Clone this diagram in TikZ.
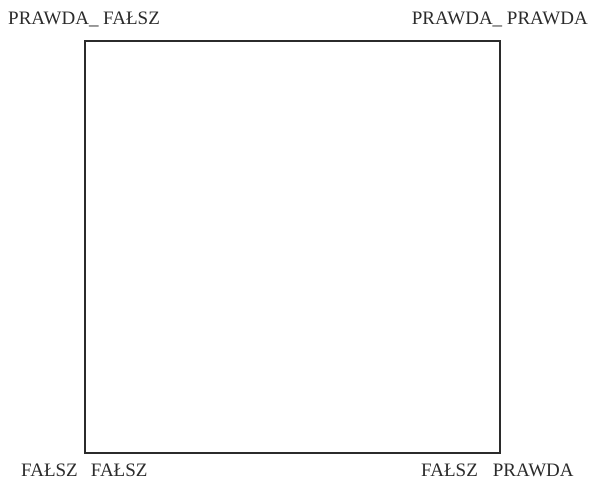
\documentclass[tikz,border=0pt]{standalone}
\usepackage{fontspec}
\setmainfont{Liberation Serif}
\usepackage{tikz}
\usetikzlibrary{positioning}
\definecolor{ink}{HTML}{2B2B2B}
\tikzset{
  etykieta/.style={font=\fontsize{19}{21}\selectfont,color=ink,inner sep=0pt},
  ramka/.style={draw=ink,line width=1.4pt},
}

\begin{document}
\begin{tikzpicture}[x=1pt,y=-1pt]
  \useasboundingbox (0,0) rectangle (591,481);
  \draw[ramka] (85,41) rectangle (500,453);
  \node[etykieta,anchor=base west] (pf) at (8,25) {PRAWDA\_ FAŁSZ};
  \node[etykieta,anchor=base east] (pp) at (588,25) {PRAWDA\_ PRAWDA};
  \node[etykieta,anchor=base west] (ff) at (21,476) {FAŁSZ\hspace{13pt}FAŁSZ};
  \node[etykieta,anchor=base west] (fp) at (421,476) {FAŁSZ\hspace{15pt}PRAWDA};
\end{tikzpicture}
\end{document}
